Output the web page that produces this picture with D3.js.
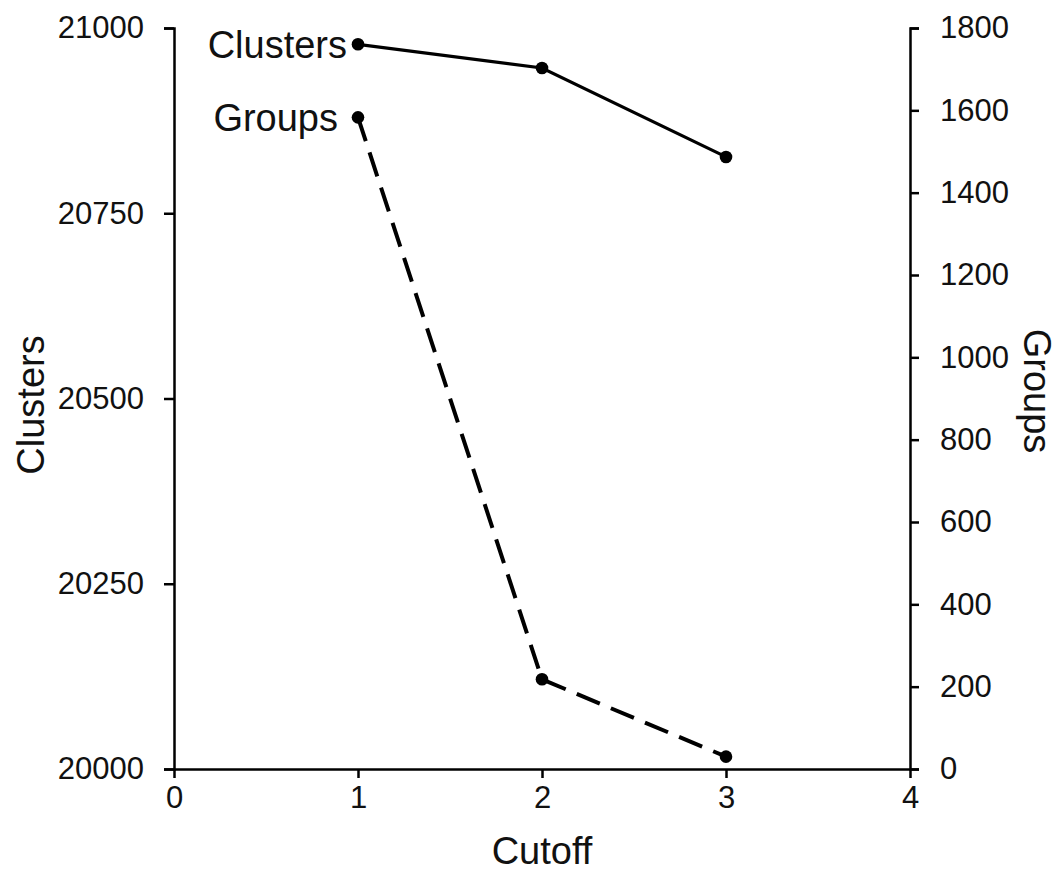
<!DOCTYPE html>
<html>
<head>
<meta charset="utf-8">
<script src="https://cdn.jsdelivr.net/npm/d3@7"></script>
<style>
  html, body { margin: 0; padding: 0; background: #fff; }
  svg { display: block; font-family: "Liberation Sans", Arial, sans-serif; }
</style>
</head>
<body>
<svg id="chart" width="1060" height="871"></svg>
<script>
// Cutoff values on the x axis
const cutoffs = [1, 2, 3];
// Number of clusters (left axis) and groups (right axis) per cutoff
const clusters = [20978, 20946, 20826];
const groups = [1583, 218, 30];

const xTicks = [0, 1, 2, 3, 4];
const leftTicks = [20000, 20250, 20500, 20750, 21000];
const rightTicks = [0, 200, 400, 600, 800, 1000, 1200, 1400, 1600, 1800];

const svg = d3.select("#chart");
const plotLeft = 174, plotRight = 910, plotTop = 28, plotBottom = 769;

const x = d3.scaleLinear().domain([0, 4]).range([plotLeft, plotRight]);
const yL = d3.scaleLinear().domain([20000, 21000]).range([plotBottom, plotTop]);
const yR = d3.scaleLinear().domain([0, 1800]).range([plotBottom, plotTop]);

const tickFont = 31, titleFont = 38;

function styleAxis(g) {
  g.selectAll("path, line").attr("stroke", "#000").attr("stroke-width", 2.5);
  g.selectAll("text").attr("font-size", tickFont).attr("fill", "#111")
    .attr("font-family", "'Liberation Sans', Arial, sans-serif");
}

svg.append("g")
  .attr("transform", `translate(0,${plotBottom})`)
  .call(d3.axisBottom(x).tickValues(xTicks).tickFormat(d3.format("d"))
    .tickSize(9).tickSizeOuter(0).tickPadding(8))
  .call(styleAxis);

svg.append("g")
  .attr("transform", `translate(${plotLeft},0)`)
  .call(d3.axisLeft(yL).tickValues(leftTicks).tickFormat(d3.format("d"))
    .tickSize(10).tickSizeOuter(10).tickPadding(20))
  .call(styleAxis);

svg.append("g")
  .attr("transform", `translate(${plotRight},0)`)
  .call(d3.axisRight(yR).tickValues(rightTicks).tickFormat(d3.format("d"))
    .tickSize(9).tickSizeOuter(9).tickPadding(21))
  .call(styleAxis);

// Axis titles
svg.append("text")
  .attr("x", (plotLeft + plotRight) / 2).attr("y", 864)
  .attr("text-anchor", "middle").attr("font-size", titleFont).attr("fill", "#111")
  .text("Cutoff");

svg.append("text")
  .attr("transform", `translate(44,405) rotate(-90)`)
  .attr("text-anchor", "middle").attr("font-size", titleFont).attr("fill", "#111")
  .text("Clusters");

svg.append("text")
  .attr("transform", `translate(1024,391) rotate(90)`)
  .attr("text-anchor", "middle").attr("font-size", titleFont).attr("fill", "#111")
  .text("Groups");

// Series
const clusterPts = cutoffs.map((c, i) => [x(c), yL(clusters[i])]);
const groupPts = cutoffs.map((c, i) => [x(c), yR(groups[i])]);
const line = d3.line();

svg.append("path").attr("d", line(clusterPts))
  .attr("fill", "none").attr("stroke", "#000").attr("stroke-width", 3.2);

svg.append("path").attr("d", line(groupPts))
  .attr("fill", "none").attr("stroke", "#000").attr("stroke-width", 4)
  .attr("stroke-dasharray", "25,12");

svg.selectAll("circle.c").data(clusterPts).enter().append("circle")
  .attr("cx", d => d[0]).attr("cy", d => d[1]).attr("r", 6.3).attr("fill", "#000");
svg.selectAll("circle.g").data(groupPts).enter().append("circle")
  .attr("cx", d => d[0]).attr("cy", d => d[1]).attr("r", 6.3).attr("fill", "#000");

// Series labels next to the first point
svg.append("text")
  .attr("x", clusterPts[0][0] - 11).attr("y", clusterPts[0][1])
  .attr("dy", "0.35em").attr("text-anchor", "end")
  .attr("font-size", titleFont).attr("fill", "#111").text("Clusters");

svg.append("text")
  .attr("x", groupPts[0][0] - 20).attr("y", groupPts[0][1])
  .attr("dy", "0.35em").attr("text-anchor", "end")
  .attr("font-size", titleFont).attr("fill", "#111").text("Groups");
</script>
</body>
</html>
